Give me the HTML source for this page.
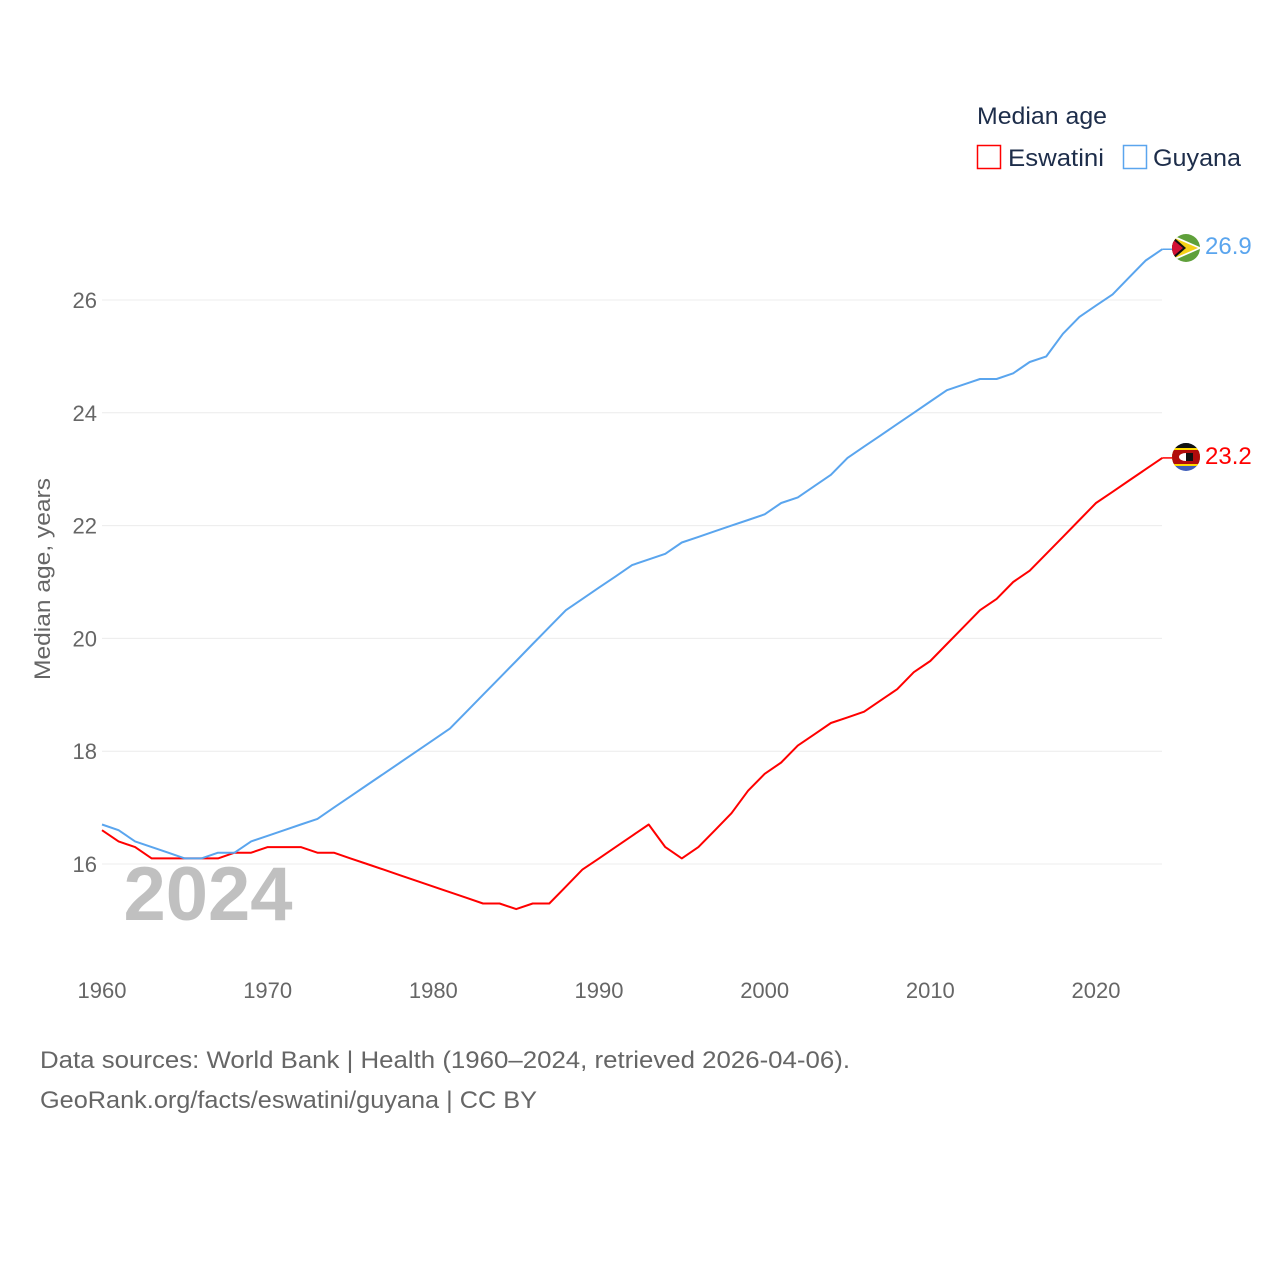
<!DOCTYPE html>
<html><head><meta charset="utf-8"><style>
body{margin:0;background:#fff;}
svg text{font-family:"Liberation Sans",sans-serif;}
</style></head><body>
<svg width="1280" height="1280" viewBox="0 0 1280 1280" xmlns="http://www.w3.org/2000/svg">
<g id="grid"></g>
<g id="yt"></g>
<g id="xt"></g>
<text x="208" y="920" font-size="76" font-weight="bold" fill="#c0c0c0" text-anchor="middle">2024</text>
<text transform="translate(50,579) rotate(-90)" font-size="22" fill="#666" text-anchor="middle" textLength="202" lengthAdjust="spacingAndGlyphs">Median age, years</text>
<g id="lines"></g>
<g>
<text x="977" y="124" font-size="24" fill="#1d2d4a" textLength="130" lengthAdjust="spacingAndGlyphs">Median age</text>
<g><rect x="977.5" y="145.5" width="23" height="23" fill="none" stroke="#f00" stroke-width="1.5"/><text x="1008" y="166" font-size="24" fill="#1d2d4a" textLength="96" lengthAdjust="spacingAndGlyphs">Eswatini</text></g>
<g><rect x="1123.5" y="145.5" width="23" height="23" fill="none" stroke="#5aa5ee" stroke-width="1.5"/><text x="1153" y="166" font-size="24" fill="#1d2d4a" textLength="88" lengthAdjust="spacingAndGlyphs">Guyana</text></g>
</g>
<g>
<clipPath id="cg"><circle cx="1186" cy="248" r="14"/></clipPath>
<g clip-path="url(#cg)"><rect x="1170" y="232" width="32" height="32" fill="#5fa03a"/><polygon points="1170,234 1202,248 1170,262" fill="#fff"/><polygon points="1170,236 1198,248 1170,260" fill="#f5d118"/><polygon points="1170,234 1186,248 1170,262" fill="#111"/><polygon points="1170,237 1183,248 1170,259" fill="#d21034"/></g></g>
<g>
<clipPath id="ce"><circle cx="1186" cy="457" r="14"/></clipPath>
<g clip-path="url(#ce)"><rect x="1170" y="441" width="32" height="32" fill="#3e5eb9"/><rect x="1170" y="448" width="32" height="18" fill="#ffd900"/><rect x="1170" y="450" width="32" height="14" fill="#b10c0c"/><rect x="1170" y="441" width="32" height="7" fill="#111"/><ellipse cx="1186" cy="457" rx="7" ry="4" fill="#fff"/><rect x="1186" y="453" width="7" height="8" fill="#111"/></g></g>
<text x="1205" y="254" font-size="24" fill="#5aa5ee">26.9</text>
<text x="1205" y="464" font-size="24" fill="#f00">23.2</text>
<text x="40" y="1068" font-size="24" fill="#666" textLength="810" lengthAdjust="spacingAndGlyphs">Data sources: World Bank | Health (1960–2024, retrieved 2026-04-06).</text>
<text x="40" y="1108" font-size="24" fill="#666" textLength="497" lengthAdjust="spacingAndGlyphs">GeoRank.org/facts/eswatini/guyana | CC BY</text>
</svg>
<script>
const years=[];for(let y=1960;y<=2024;y++)years.push(y);
const eswatini=[16.6,16.4,16.3,16.1,16.1,16.1,16.1,16.1,16.2,16.2,16.3,16.3,16.3,16.2,16.2,16.1,16.0,15.9,15.8,15.7,15.6,15.5,15.4,15.3,15.3,15.2,15.3,15.3,15.6,15.9,16.1,16.3,16.5,16.7,16.3,16.1,16.3,16.6,16.9,17.3,17.6,17.8,18.1,18.3,18.5,18.6,18.7,18.9,19.1,19.4,19.6,19.9,20.2,20.5,20.7,21.0,21.2,21.5,21.8,22.1,22.4,22.6,22.8,23.0,23.2];
const guyana=[16.7,16.6,16.4,16.3,16.2,16.1,16.1,16.2,16.2,16.4,16.5,16.6,16.7,16.8,17.0,17.2,17.4,17.6,17.8,18.0,18.2,18.4,18.7,19.0,19.3,19.6,19.9,20.2,20.5,20.7,20.9,21.1,21.3,21.4,21.5,21.7,21.8,21.9,22.0,22.1,22.2,22.4,22.5,22.7,22.9,23.2,23.4,23.6,23.8,24.0,24.2,24.4,24.5,24.6,24.6,24.7,24.9,25.0,25.4,25.7,25.9,26.1,26.4,26.7,26.9];
const yTicks=[16,18,20,22,24,26];
const xTicks=[1960,1970,1980,1990,2000,2010,2020];
const NS="http://www.w3.org/2000/svg";
const X=y=>102+(y-1960)*(994/60);
const Y=v=>864-(v-16)*56.4;
function mk(tag,attrs,parent){const e=document.createElementNS(NS,tag);for(const k in attrs)e.setAttribute(k,attrs[k]);parent.appendChild(e);return e;}
const grid=document.getElementById('grid'),yt=document.getElementById('yt'),xt=document.getElementById('xt'),lines=document.getElementById('lines');
yTicks.forEach(v=>{
 const l=mk('line',{x1:102,x2:1162,y1:Y(v),y2:Y(v),stroke:'#ececec','stroke-width':1},grid);
 
 
 const t=mk('text',{x:97,y:Y(v)+8,'font-size':22,fill:'#666','text-anchor':'end'},yt);t.textContent=v;
 
 
});
xTicks.forEach(v=>{
 const t=mk('text',{x:X(v),y:998,'font-size':22,fill:'#666','text-anchor':'middle'},xt);t.textContent=v;
 
 
});
function draw(vals,color,name){
 const d=vals.map((v,i)=>(i?'L':'M')+X(years[i]).toFixed(1)+','+Y(v).toFixed(1)).join('');
 const p=mk('path',{d:d,fill:'none',stroke:color,'stroke-width':2,'stroke-linejoin':'round'},lines);
 
 
 const last=vals[vals.length-1];
 const s=mk('line',{x1:X(2024),x2:1174,y1:Y(last),y2:Y(last),stroke:color,'stroke-width':1.5},lines);
 
 
}
draw(eswatini,'#ff0000','eswatini');
draw(guyana,'#5aa5ee','guyana');
</script>
</body></html>
